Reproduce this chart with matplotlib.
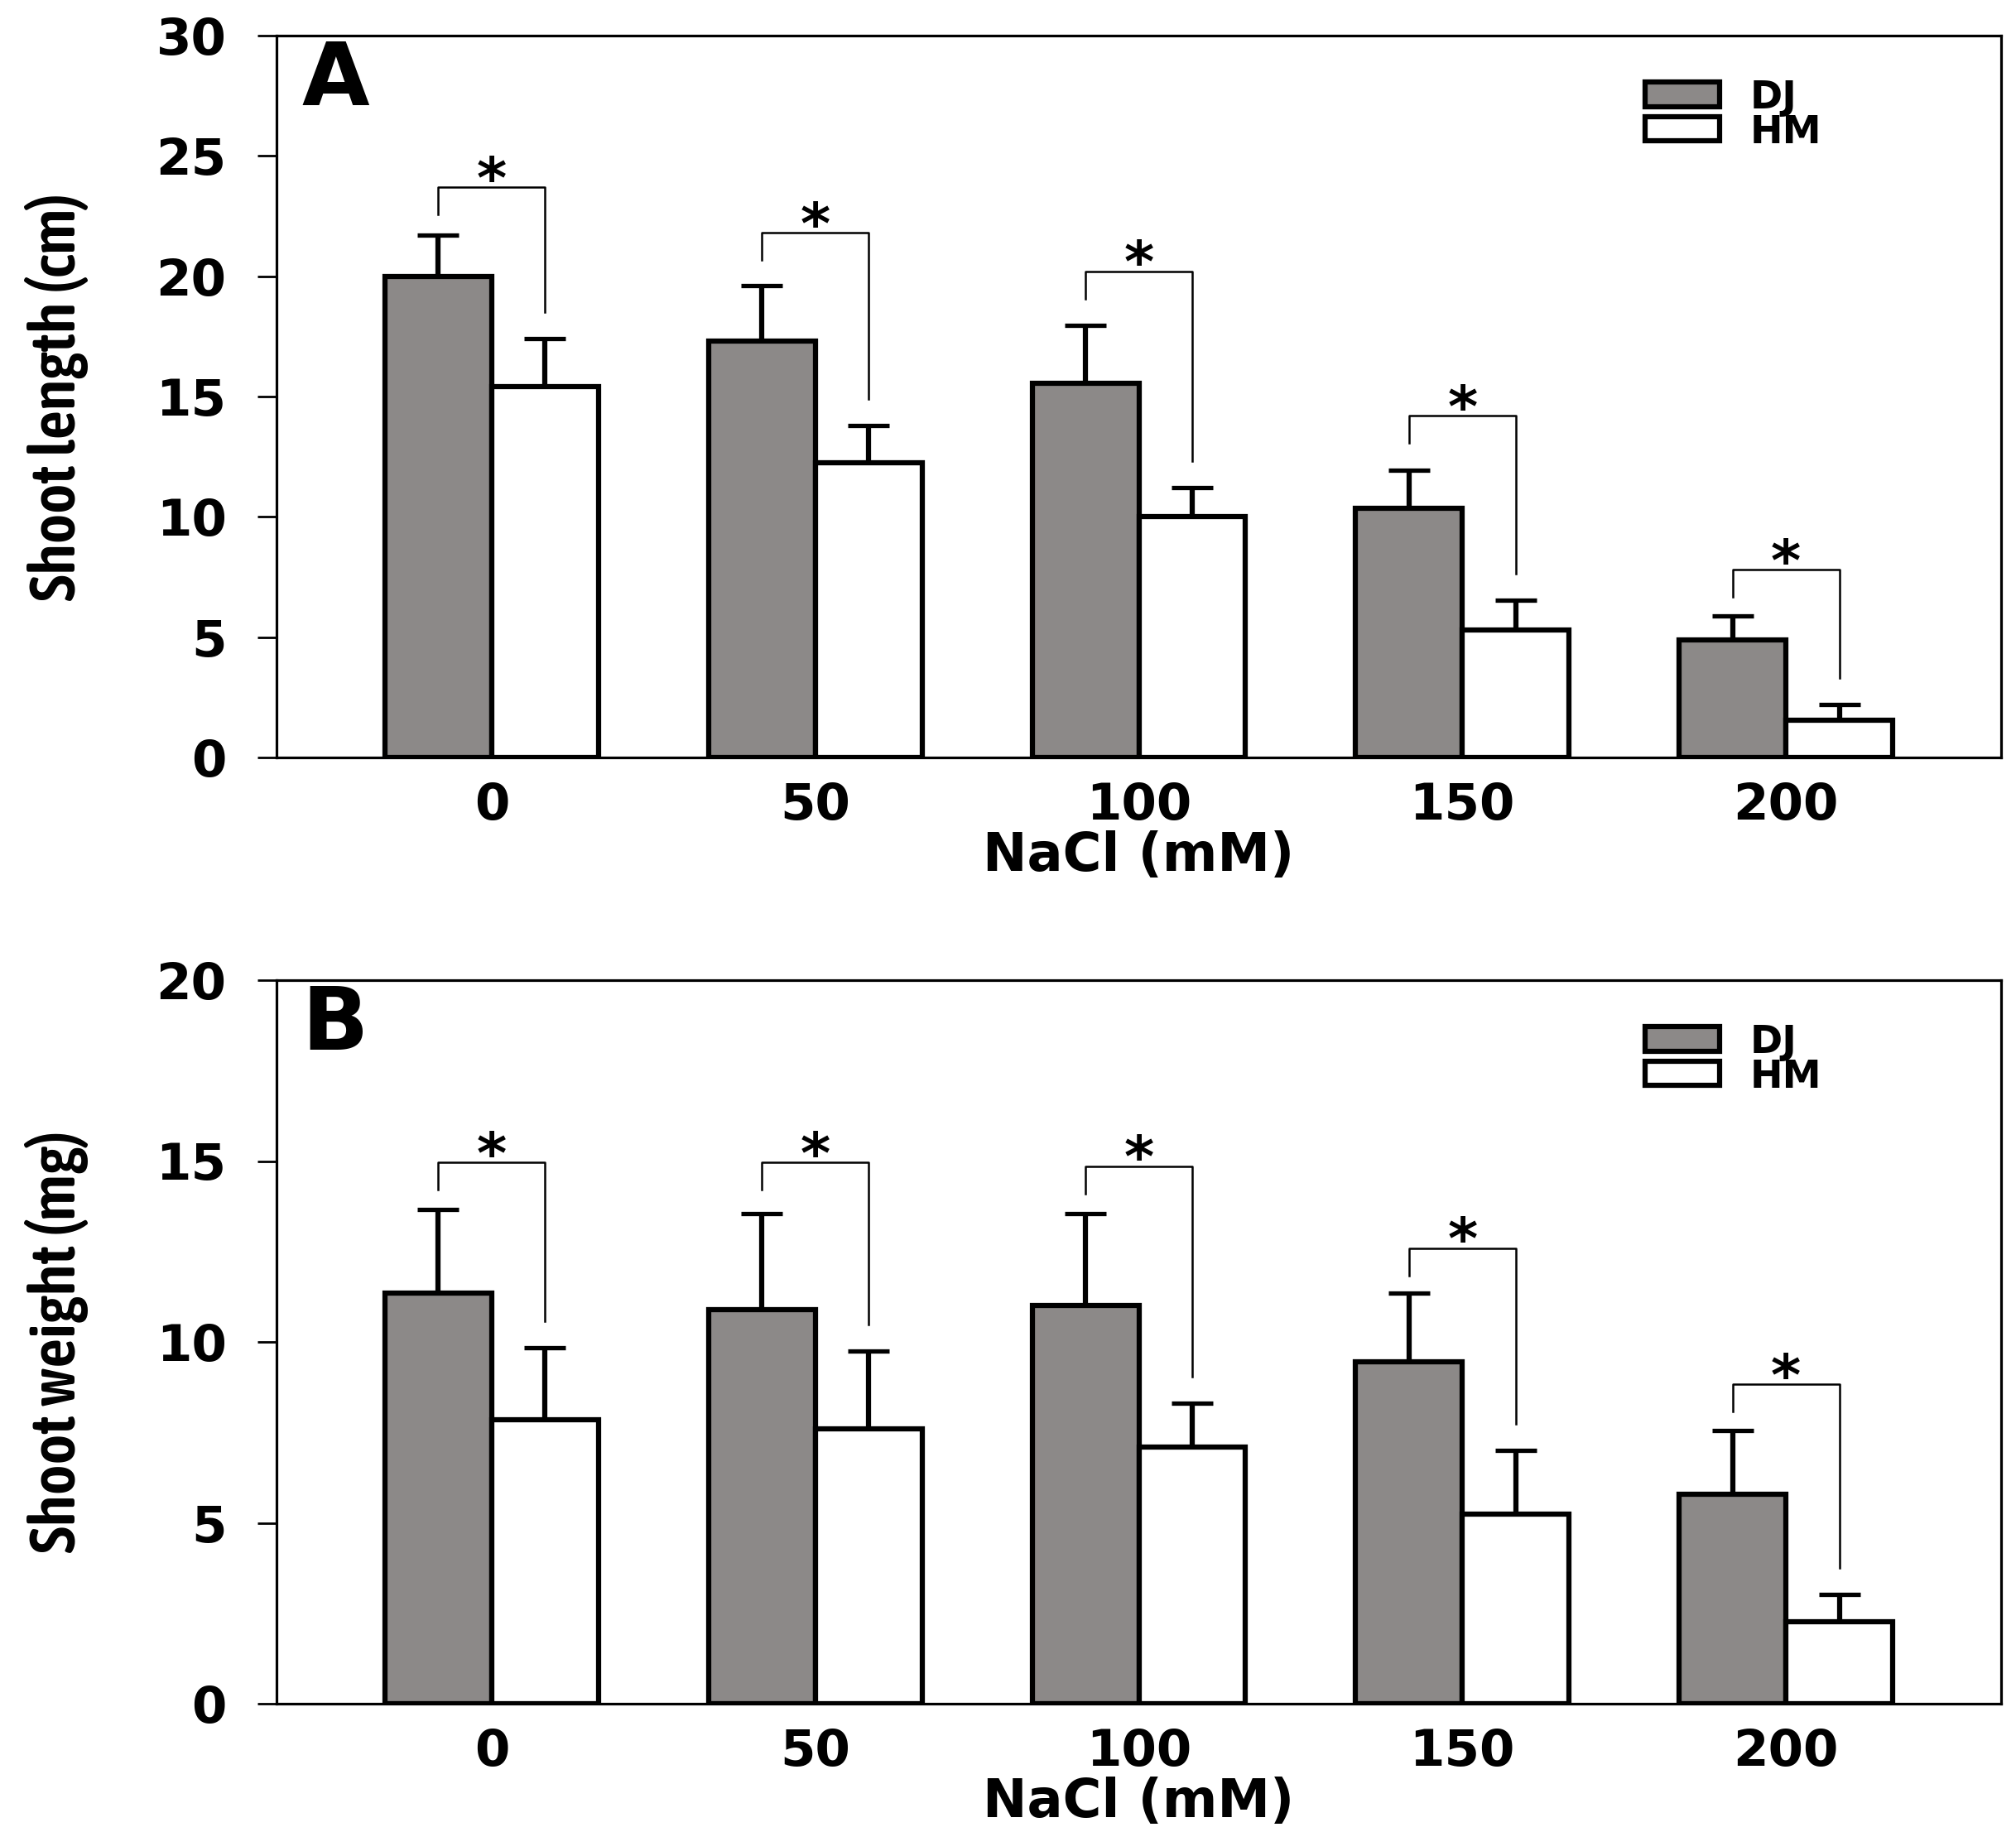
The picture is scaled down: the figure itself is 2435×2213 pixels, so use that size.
import numpy as np
import matplotlib.pyplot as plt
from matplotlib import font_manager as fm

# NaCl concentrations (mM) and cultivars
nacl = ['0', '50', '100', '150', '200']
cultivars = ['DJ', 'HM']

# panel A: shoot length (cm)
length_dj = [20.0, 17.3, 15.55, 10.35, 4.9]
length_dj_err = [1.7, 2.3, 2.4, 1.6, 0.97]
length_hm = [15.4, 12.25, 10.0, 5.3, 1.55]
length_hm_err = [2.0, 1.55, 1.2, 1.25, 0.65]
length_sig = [23.7, 21.8, 20.2, 14.2, 7.8]   # height of significance brackets

# panel B: shoot weight (mg)
weight_dj = [11.35, 10.9, 11.0, 9.45, 5.8]
weight_dj_err = [2.3, 2.65, 2.55, 1.9, 1.75]
weight_hm = [7.85, 7.6, 7.1, 5.25, 2.27]
weight_hm_err = [2.0, 2.15, 1.2, 1.75, 0.75]
weight_sig = [14.96, 14.96, 14.86, 12.59, 8.83]

GRAY = '#8c8988'
W, H = 2435, 2213
plt.rcParams['font.family'] = 'DejaVu Sans'
plt.rcParams['font.weight'] = 'bold'

# the y labels in the original are set in a narrow face; use one if there is any
narrow = [f for f in fm.fontManager.ttflist
          if f.stretch in ('condensed', 'semi-condensed', 'extra-condensed')
          and str(f.weight) in ('400', '500', '600', '700', 'normal', 'medium', 'bold')
          and f.style == 'normal']
narrow.sort(key=lambda f: (abs(int(f.weight) - 600) if str(f.weight).isdigit() else 100))
if narrow:
    ylab_font = fm.FontProperties(fname=narrow[0].fname)
else:
    ylab_font = fm.FontProperties(family='DejaVu Sans', weight='bold')


def draw_panel(ax, dj, dj_err, hm, hm_err, sig, ymax, letter, ylabel, ax_h_px):
    x = np.arange(len(nacl))
    w = 0.33
    ppu = ax_h_px / ymax  # pixels per data unit

    ax.errorbar(x - w / 2, dj, yerr=[np.zeros(len(dj)), dj_err], fmt='none',
                ecolor='black', elinewidth=4.5, capsize=18, capthick=3.8, zorder=2)
    ax.errorbar(x + w / 2, hm, yerr=[np.zeros(len(hm)), hm_err], fmt='none',
                ecolor='black', elinewidth=4.5, capsize=18, capthick=3.8, zorder=2)
    ax.bar(x - w / 2, dj, w, color=GRAY, edgecolor='black', linewidth=4.5, zorder=3)
    ax.bar(x + w / 2, hm, w, color='white', edgecolor='black', linewidth=4.5, zorder=3)

    # significance brackets
    for i in range(len(nacl)):
        xl, xr = x[i] - w / 2, x[i] + w / 2
        hm_top = hm[i] + hm_err[i]
        ax.plot([xl, xl, xr, xr],
                [sig[i] - 33 / ppu, sig[i], sig[i], hm_top + 32 / ppu],
                color='black', lw=1.8, zorder=4)
        ax.annotate('*', xy=(x[i], sig[i]), xytext=(0, -9), textcoords='offset points',
                    ha='center', va='baseline', fontsize=50, fontweight='bold')

    ax.set_xlim(-0.665, 4.665)
    ax.set_ylim(0, ymax)
    ax.set_xticks(x)
    ax.set_xticklabels(nacl)
    ax.set_yticks(np.arange(0, ymax + 1, 5))
    ax.tick_params(axis='y', direction='out', length=16.5, width=2, pad=27, labelsize=44)
    ax.tick_params(axis='x', length=0, pad=21, labelsize=44)
    for s in ax.spines.values():
        s.set_linewidth(2.3)

    ax.set_xlabel('NaCl (mM)', fontsize=46, fontweight='bold', labelpad=0)
    ax.set_ylabel(ylabel, fontproperties=ylab_font, fontsize=50)
    ax.yaxis.set_label_coords(-0.109, 0.5)

    ax.text(0.0145, 0.9037, letter, transform=ax.transAxes, ha='left', va='baseline',
            fontsize=76, fontweight='bold')

    # legend boxes
    cap = 0.729 * 34 * 100 / 72 / ax_h_px
    for (name, fc, y0, h) in [(cultivars[0], GRAY, 0.9014, 0.0344),
                              (cultivars[1], 'white', 0.8544, 0.0332)]:
        ax.add_patch(plt.Rectangle((0.7936, y0), 0.0432, h, transform=ax.transAxes,
                                   facecolor=fc, edgecolor='black', linewidth=4.5,
                                   clip_on=False))
        ax.text(0.8545, y0 + h / 2 - cap / 2, name, transform=ax.transAxes, ha='left',
                va='baseline', fontsize=34, fontweight='bold')


fig = plt.figure(figsize=(W / 100, H / 100), dpi=100)
left, right = 334 / W, 2417 / W
axA = fig.add_axes([left, 1 - 915 / H, right - left, 872 / H])
axB = fig.add_axes([left, 1 - 2058 / H, right - left, 874 / H])

draw_panel(axA, length_dj, length_dj_err, length_hm, length_hm_err, length_sig,
           30, 'A', 'Shoot length (cm)', 872)
draw_panel(axB, weight_dj, weight_dj_err, weight_hm, weight_hm_err, weight_sig,
           20, 'B', 'Shoot weight (mg)', 874)

# size the y labels so that they run as long as in the original
fig.canvas.draw()
for ax, target in [(axA, 493), (axB, 510)]:
    lab = ax.yaxis.label
    ext = lab.get_window_extent()
    lab.set_fontsize(lab.get_fontsize() * target / ext.height)

fig.savefig('out.png', dpi=100)
